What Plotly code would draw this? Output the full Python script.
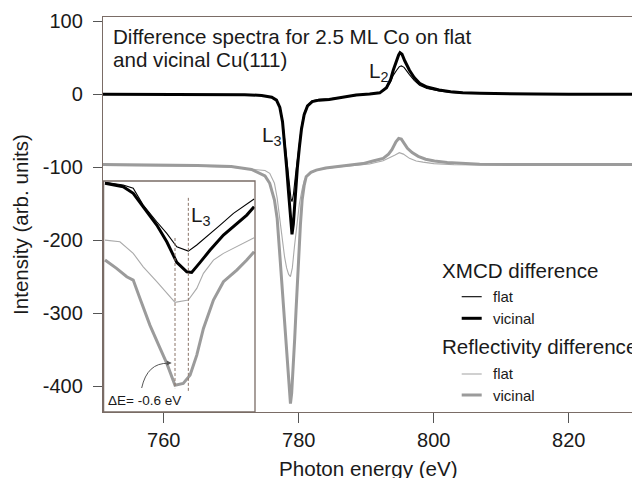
import plotly.graph_objects as go

# ---------------- data ----------------
# XMCD difference, vicinal (thick black)
x_xmcd_vic = [751, 760, 768, 772, 774.5, 776.0, 776.7, 777.2, 777.6, 777.9, 778.2, 778.5, 778.8, 779.0,
              779.2, 779.5, 779.8, 780.1, 780.4, 780.8, 781.3, 782.0, 783.0, 784.5, 786.5, 788.5, 790.5,
              792.0, 793.0, 793.6, 794.0, 794.5, 794.8, 795.0, 795.3, 795.7, 796.4, 797.1, 797.9, 799.0,
              800.8, 802.5, 804.3, 806.8, 810, 815, 820, 831.5]
y_xmcd_vic = [0, 0, 0, -0.5, -1.5, -4, -8, -18, -38, -65, -100, -136, -175, -192,
              -178, -136, -100, -72, -48, -28, -16, -10, -8, -7, -4, -1, 0.5,
              2, 9, 20, 33, 47, 54, 57, 55, 46, 33, 23, 15, 10,
              6, 3.5, 2, 1.4, 0.8, 0.3, 0, 0]

# XMCD difference, flat (thin black)
x_xmcd_flat = [751, 760, 768, 772, 774.5, 776.0, 776.7, 777.2, 777.6, 778.0, 778.3, 778.6, 778.85, 779.0,
               779.2, 779.5, 779.8, 780.1, 780.4, 780.8, 781.3, 782.0, 783.0, 784.5, 786.5, 788.5, 790.5,
               792.0, 793.0, 793.6, 794.0, 794.5, 794.9, 795.2, 795.6, 796.4, 797.1, 797.9, 799.0, 800.8,
               802.5, 804.3, 806.8, 810, 815, 820, 831.5]
y_xmcd_flat = [0, 0, 0, -0.5, -1.5, -4, -8, -17, -35, -68, -98, -125, -143, -147,
               -138, -112, -88, -64, -44, -26, -15, -9, -7, -6, -3.5, -1, 0.5,
               2, 8.5, 17, 26, 33, 38, 39, 37, 27, 19, 12.5, 8, 4.5,
               2.5, 1.5, 1, 0.6, 0.2, 0, 0]

# Reflectivity difference, vicinal (thick grey)
x_refl_vic = [751, 760, 765, 770, 773, 775.0, 775.7, 776.4, 776.8, 777.14, 777.5, 777.9, 778.2, 778.4,
              778.6, 778.77, 778.95, 779.2, 779.4, 779.6, 779.8, 780.0, 780.25, 780.5, 780.8, 781.1,
              781.8, 782.6, 784.0, 785.5, 787.5, 789.5, 791.0, 792.5, 793.3, 793.8, 794.4, 794.8, 795.2,
              795.6, 796.1, 796.8, 797.7, 798.8, 800.1, 802.0, 804.1, 806.8, 812, 820, 831.5]
y_refl_vic = [-96.3, -96.5, -97.5, -99, -103, -112, -122, -145, -170, -213, -260, -305, -345, -370,
              -400, -424, -410, -373, -335, -296, -255, -213, -178, -145, -125, -113,
              -107, -104, -101, -99.3, -97.5, -95, -91.5, -87.8, -82, -76, -65, -60.5, -61.5,
              -67, -74, -80, -85, -89, -91.5, -93.5, -94.6, -95.8, -96.2, -96.3, -96.3]

# Reflectivity difference, flat (thin grey)
x_refl_flat = [751, 760, 765, 770, 773, 775.0, 775.7, 776.4, 776.8, 777.14, 777.5, 777.9, 778.2, 778.5,
               778.77, 779.05, 779.36, 779.7, 780.1, 780.5, 780.84, 781.2, 781.6, 782.3, 783.1, 785.5,
               788.0, 790.5, 792.5, 793.5, 794.2, 794.9, 795.5, 796.4, 797.4, 798.4, 800.0, 803, 807,
               815, 831.5]
y_refl_flat = [-97.5, -97.7, -98.5, -100, -102.5, -104.5, -108.4, -122, -142, -168, -195, -223, -238, -247,
               -250, -238, -209, -180, -149.5, -130, -117.5, -112, -108.4, -105.5, -103, -100,
               -98, -95.5, -91, -87, -83.5, -80, -82, -87.8, -91.5, -93, -95, -96.5, -97,
               -97.3, -97.3]

# Inset (zoom of the L3 minimum)
ix_xmcd_flat = [775.45, 776.27, 776.72, 777.17, 777.78, 778.23, 778.68, 779.20, 779.58, 780.03, 780.63,
                781.23, 781.83, 782.16]
iy_xmcd_flat = [-120.7, -124.4, -128.9, -151.9, -174.8, -190.7, -209.1, -215.0, -206.7, -195.3, -179.3,
                -163.2, -150.9, -143.6]
ix_xmcd_vic = [775.45, 776.27, 776.72, 777.17, 777.78, 778.23, 778.68, 779.13, 779.35, 779.73, 780.18,
               780.78, 781.38, 781.83, 782.16]
iy_xmcd_vic = [-122.1, -126.7, -135.8, -154.2, -179.3, -202.2, -230.5, -243.4, -244.2, -230.5, -213.6,
               -193.0, -176.9, -165.6, -154.2]
ix_refl_flat = [775.45, 776.12, 776.72, 777.17, 777.78, 778.23, 778.60, 779.20, 779.58, 779.88, 780.33,
                780.78, 781.38, 781.83, 782.16]
iy_refl_flat = [-199.9, -202.2, -218.1, -236.5, -257.0, -272.9, -285.3, -282.1, -266.1, -245.5, -227.3,
                -218.1, -209.1, -202.2, -196.7]
ix_refl_vic = [775.45, 775.97, 776.43, 776.72, 777.02, 777.47, 777.93, 778.23, 778.60, 778.97, 779.28,
               779.58, 779.88, 780.33, 780.78, 781.38, 781.83, 782.16]
iy_refl_vic = [-227.3, -238.7, -250.2, -254.7, -279.8, -316.5, -348.4, -369.0, -398.8, -396.4, -385.0,
               -357.6, -321.0, -282.1, -257.0, -241.0, -227.3, -215.9]
# dashed markers of the two minima (eV) and their vertical extents
dash_x = [778.6, 779.2]
dash_top = [-197.0, -142.0]
dash_bottom = [-403.0, -408.0]

x_tick_vals = [760, 780, 800, 820]
x_tick_text = ["760", "780", "800", "820"]
y_tick_vals = [100, 0, -100, -200, -300, -400]
y_tick_text = ["100", "0", "-100", "-200", "-300", "-400"]

# ---------------- styling ----------------
FONT = "Liberation Sans, Arial, Helvetica, sans-serif"
TXT = "#1a1a1a"
FRAME = "#7a6c66"
DASH = "#8a7468"
BLACK = "#000000"
GREY_THICK = "#9b9b9b"
GREY_THIN = "#aaaaaa"
BIG = 20.6
TICK = 20
SMALL = 15

OFF = 8  # page body margin of the html page
W, H = 632, 470
L, R, T, B = 95, 0, 9, 66
PW, PH = W - L - R, H - T - B


def px(X):  # screen pixel -> paper
    return (X - OFF - L) / PW


def py(Y):
    return (H - B - (Y - OFF)) / PH


fig = go.Figure()


def line(x, y, color, width, xa="x", ya="y", dash="solid"):
    fig.add_trace(go.Scatter(x=x, y=y, mode="lines", xaxis=xa, yaxis=ya,
                             line=dict(color=color, width=width, dash=dash),
                             showlegend=False, hoverinfo="skip"))


# main curves
line(x_refl_flat, y_refl_flat, GREY_THIN, 1.1)
line(x_refl_vic, y_refl_vic, GREY_THICK, 3.0)
line(x_xmcd_flat, y_xmcd_flat, BLACK, 1.1)
line(x_xmcd_vic, y_xmcd_vic, BLACK, 3.0)

# inset curves
line(ix_refl_flat, iy_refl_flat, GREY_THIN, 1.1, "x2", "y2")
line(ix_refl_vic, iy_refl_vic, GREY_THICK, 3.0, "x2", "y2")
line(ix_xmcd_flat, iy_xmcd_flat, BLACK, 1.1, "x2", "y2")
line(ix_xmcd_vic, iy_xmcd_vic, BLACK, 3.0, "x2", "y2")
for xd, yt, yb in zip(dash_x, dash_top, dash_bottom):
    line([xd, xd], [yt, yb], DASH, 1.0, "x2", "y2", dash="3px,2px")

fig.update_layout(
    width=W, height=H,
    margin=dict(l=L, r=R, t=T, b=B),
    paper_bgcolor="white", plot_bgcolor="white",
    font=dict(family=FONT, color=TXT, size=TICK),
    xaxis=dict(domain=[0, 1], range=[751.0, 751.0 + PW / 6.75], tickvals=x_tick_vals, ticktext=x_tick_text,
               ticks="outside", ticklen=10, tickwidth=1.2, tickcolor="#555555",
               showline=True, linecolor=FRAME, linewidth=1.3, mirror=True,
               showgrid=False, zeroline=False, tickfont=dict(size=TICK)),
    yaxis=dict(domain=[0, 1], range=[-435.6, 106.0], tickvals=y_tick_vals, ticktext=y_tick_text,
               ticks="outside", ticklen=9, tickwidth=1.2, tickcolor="#555555",
               showline=True, linecolor=FRAME, linewidth=1.3, mirror=False,
               showgrid=False, zeroline=False, tickfont=dict(size=TICK), ticklabelstandoff=6),
    xaxis2=dict(domain=[0, px(255)], range=[775.36, 782.20], anchor="y2",
                showticklabels=False, ticks="", showline=False, showgrid=False, zeroline=False),
    yaxis2=dict(domain=[0, py(181)], range=[-435.6, -118.9], anchor="x2",
                showticklabels=False, ticks="", showline=False, showgrid=False, zeroline=False),
)

shapes = []
# inset frame
shapes.append(dict(type="rect", xref="paper", yref="paper", x0=px(103.6), x1=px(255), y0=0, y1=py(181),
                   line=dict(color=FRAME, width=1.3), fillcolor="rgba(0,0,0,0)"))
# curved arrow in inset
shapes.append(dict(type="path", xref="x2", yref="y2",
                   path="M 777.10,-402.7 Q 777.35,-368.0 778.30,-368.8",
                   line=dict(color="#555555", width=1.0)))

# legend swatches
leg_rows = [(296.7, BLACK, 1.1), (318.3, BLACK, 3.0), (374.0, GREY_THIN, 1.1), (395.0, GREY_THICK, 3.0)]
for Y, c, w in leg_rows:
    shapes.append(dict(type="line", xref="paper", yref="paper", x0=px(461.7), x1=px(481.7),
                       y0=py(Y), y1=py(Y), line=dict(color=c, width=w)))
fig.update_layout(shapes=shapes)

ann = []


def text(t, X, Y, size=BIG, xanchor="left", yanchor="middle", angle=0):
    ann.append(dict(text=t, x=px(X), y=py(Y), xref="paper", yref="paper", showarrow=False,
                    xanchor=xanchor, yanchor=yanchor, textangle=angle,
                    font=dict(size=size, family=FONT, color=TXT)))


text("Difference spectra for 2.5 ML Co on flat", 111, 36)
text("and vicinal Cu(111)", 111, 59.5)
text("L<sub>2</sub>", 378, 72, xanchor="center")
text("L<sub>3</sub>", 271, 136, xanchor="center")
text("L<sub>3</sub>", 189, 216)
text("ΔE= -0.6 eV", 106, 400, 13.5)
# legend text
text("XMCD difference", 439.5, 270.5)
text("flat", 490.5, 296.5, SMALL)
text("vicinal", 490.5, 318, SMALL)
text("Reflectivity difference", 439.5, 346)
text("flat", 490.5, 373, SMALL)
text("vicinal", 490.5, 395, SMALL)
# axis titles
text("Intensity (arb. units)", 21, 225, xanchor="center", angle=-90)
text("Photon energy (eV)", 368, 469, xanchor="center")

# arrow head for the curved arrow
ann.append(dict(x=778.45, y=-368.4, xref="x2", yref="y2", ax=-4, ay=0, axref="pixel", ayref="pixel",
                text="", showarrow=True, arrowhead=2, arrowsize=1.0, arrowwidth=1.0,
                arrowcolor="#555555"))
fig.update_layout(annotations=ann)

fig.write_html("out.html")
